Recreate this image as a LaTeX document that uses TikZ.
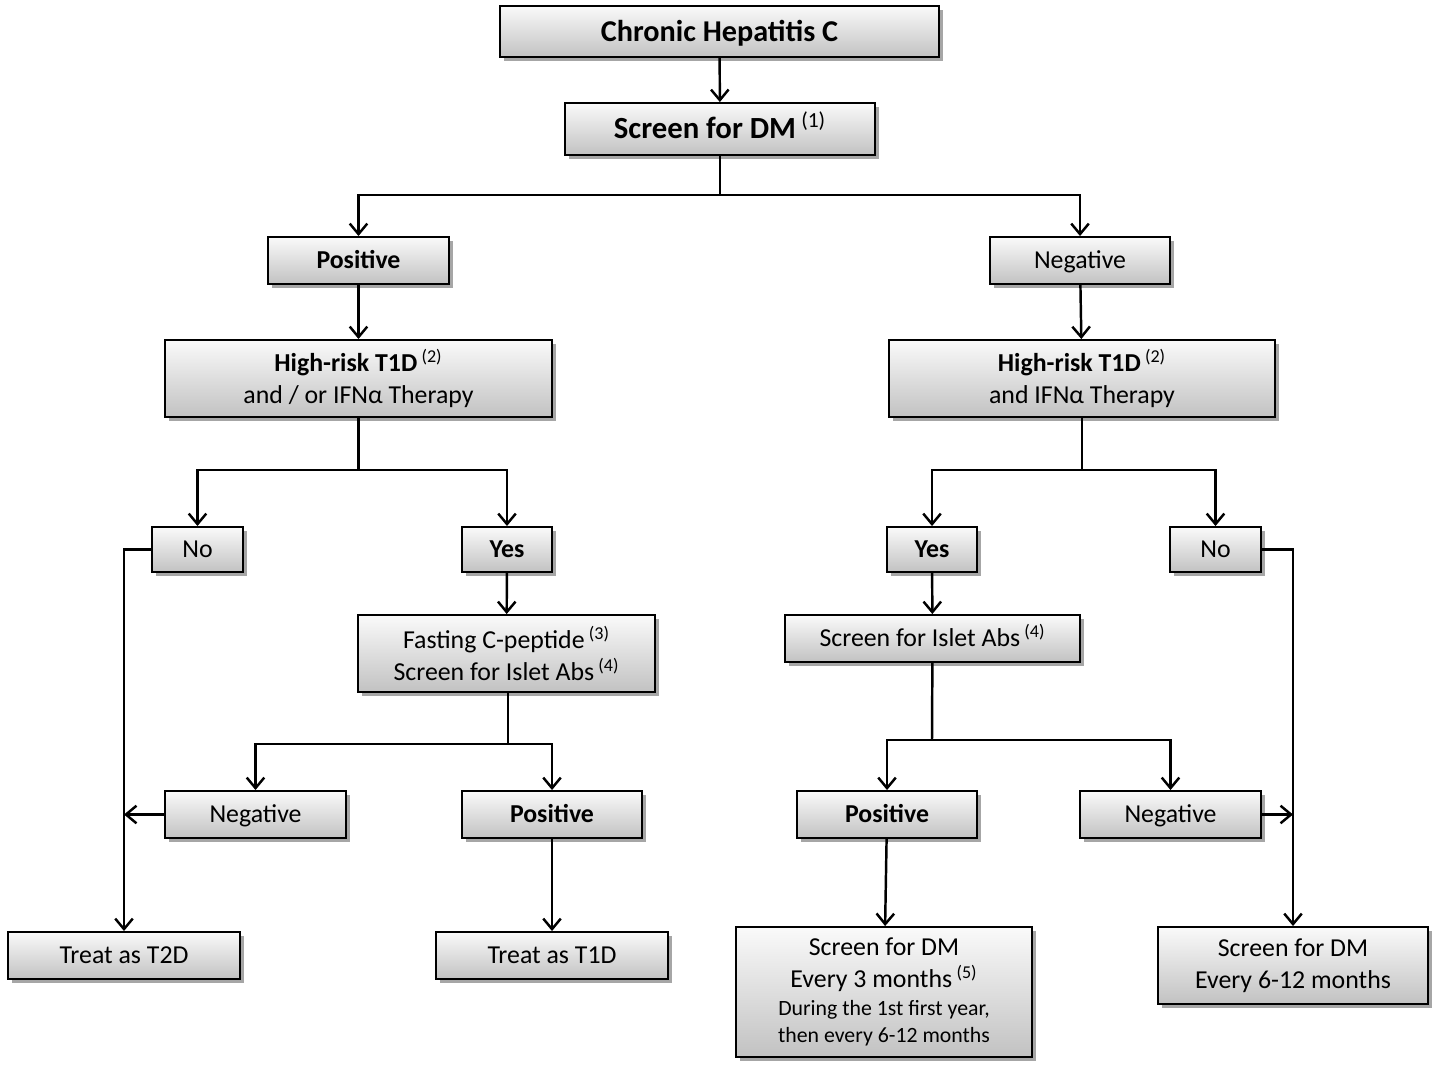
\documentclass[tikz,border=0pt]{standalone}
\usepackage{fontspec}
\setmainfont{Carlito}
\usetikzlibrary{arrows.meta,shadows}
\tikzset{
  box/.style={rectangle,draw,line width=1.1pt,inner sep=0pt,align=center,
    top color=black!2,bottom color=black!24,
    drop shadow={shadow xshift=2pt,shadow yshift=-2pt,opacity=0.35,fill=black},
    font=\fontsize{14.7}{18.2}\selectfont},
  one/.style={text height=9.5pt,text depth=0pt},
  bf/.style={font=\fontsize{14.7}{18.2}\selectfont\bfseries},
  arr/.style={line width=1.4pt,-{Straight Barb[length=6pt,width=10pt,line width=1.4pt]}},
  ln/.style={line width=1.4pt}
}
\newcommand{\nt}[1]{\,\textsuperscript{\mdseries(#1)}}
\begin{document}
\begin{tikzpicture}[x=0.02cm,y=-0.02cm]
  \useasboundingbox (0,0) rectangle (1437,1072);

  \node[box,one,text height=11pt,minimum width=439*0.02cm,minimum height=51*0.02cm,font=\fontsize{17.2}{19}\selectfont\bfseries] (0) at (719.5,31.5) {Chronic Hepatitis C};
  \node[box,one,text height=11.3pt,minimum width=310*0.02cm,minimum height=52*0.02cm,font=\fontsize{17.5}{20}\selectfont\bfseries] (1) at (720,129) {Screen for DM\nt{1}};
  \node[box,one,bf,minimum width=181*0.02cm,minimum height=47*0.02cm] (2) at (358.5,260.5) {Positive};
  \node[box,one,minimum width=180*0.02cm,minimum height=47*0.02cm] (3) at (1080,260.5) {Negative};
  \node[box,minimum width=387*0.02cm,minimum height=77*0.02cm] (4) at (358.5,378.5) {\textbf{High-risk T1D}\nt{2}\\and / or IFNα Therapy};
  \node[box,minimum width=386*0.02cm,minimum height=77*0.02cm] (5) at (1082,378.5) {\textbf{High-risk T1D}\nt{2}\\and IFNα Therapy};
  \node[box,one,minimum width=91*0.02cm,minimum height=45*0.02cm] (6) at (197.5,549.5) {No};
  \node[box,one,bf,minimum width=90*0.02cm,minimum height=45*0.02cm] (7) at (507,549.5) {Yes};
  \node[box,one,bf,minimum width=90*0.02cm,minimum height=45*0.02cm] (8) at (932,549.5) {Yes};
  \node[box,one,minimum width=91*0.02cm,minimum height=45*0.02cm] (9) at (1215.5,549.5) {No};
  \node[box,minimum width=297*0.02cm,minimum height=77*0.02cm] (10) at (506.5,653.5) {Fasting C-peptide\nt{3}\\Screen for Islet Abs\nt{4}};
  \node[box,one,minimum width=295*0.02cm,minimum height=47*0.02cm] (11) at (932.5,638.5) {Screen for Islet Abs\nt{4}};
  \node[box,one,minimum width=181*0.02cm,minimum height=47*0.02cm] (12) at (255.5,814.5) {Negative};
  \node[box,one,bf,minimum width=180*0.02cm,minimum height=47*0.02cm] (13) at (552,814.5) {Positive};
  \node[box,one,bf,minimum width=180*0.02cm,minimum height=47*0.02cm] (14) at (887,814.5) {Positive};
  \node[box,one,minimum width=181*0.02cm,minimum height=47*0.02cm] (15) at (1170.5,814.5) {Negative};
  \node[box,one,minimum width=232*0.02cm,minimum height=47*0.02cm] (16) at (124,955.5) {Treat as T2D};
  \node[box,one,minimum width=232*0.02cm,minimum height=47*0.02cm] (17) at (552,955.5) {Treat as T1D};
  \node[box,minimum width=296*0.02cm,minimum height=130*0.02cm] (18) at (884,992) {Screen for DM\\Every 3 months\nt{5}\\[-2pt]
    {\fontsize{12.4}{14}\selectfont During the 1st first year,}\\[-3pt]{\fontsize{12.4}{14}\selectfont then every 6-12 months}};
  \node[box,minimum width=270*0.02cm,minimum height=77*0.02cm] (19) at (1293,965.5) {Screen for DM\\Every 6-12 months};

  \coordinate (a) at (720,195);
  \coordinate (b) at (358.5,470);
  \coordinate (c) at (1082,470);
  \coordinate (d) at (508,744);
  \coordinate (e) at (932,740);

  \draw[arr] (0) -- (1);
  \draw[ln] (1) -- (a);
  \draw[arr] (a) -| (2);
  \draw[arr] (a) -| (3);
  \draw[arr] (2) -- (4);
  \draw[arr] (3) -- (5);
  \draw[ln] (4) -- (b);
  \draw[arr] (b) -| (6);
  \draw[arr] (b) -| (7);
  \draw[ln] (5) -- (c);
  \draw[arr] (c) -| (8);
  \draw[arr] (c) -| (9);
  \draw[arr] (7) -- (10);
  \draw[arr] (8) -- (11);
  \draw[ln] (10.south -| d) -- (d);
  \draw[arr] (d) -| (12);
  \draw[arr] (d) -| (13);
  \draw[ln] (11) -- (e);
  \draw[arr] (e) -| (14);
  \draw[arr] (e) -| (15);
  \draw[arr] (6.west) -| (16.north);
  \draw[arr] (12.west) -- (12.west -| 16.north);
  \draw[arr] (13) -- (17);
  \draw[arr] (14) -- (18);
  \draw[arr] (9.east) -| (19.north);
  \draw[arr] (15.east) -- (15.east -| 19.north);
\end{tikzpicture}
\end{document}
